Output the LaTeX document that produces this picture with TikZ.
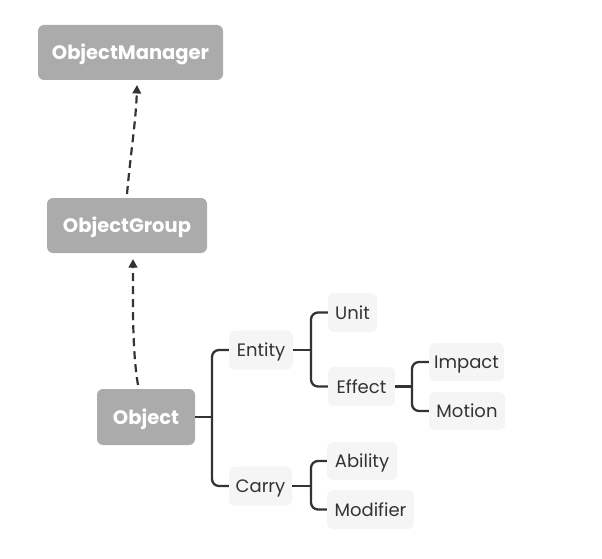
\documentclass[tikz,border=0pt]{standalone}
\usepackage{fontspec}
\setmainfont{Poppins}
\usetikzlibrary{arrows.meta}
\definecolor{boxgray}{HTML}{ABABAB}
\definecolor{leafgray}{HTML}{F5F5F5}
\definecolor{linecol}{HTML}{333333}
\tikzset{
  mainbox/.style={fill=boxgray, rounded corners=6pt, text=white, font=\fontsize{19.5}{22}\selectfont\bfseries, inner sep=0pt, text height=14.5pt, text depth=0pt, anchor=center},
  leafbox/.style={fill=leafgray, rounded corners=6pt, text=linecol, font=\fontsize{18}{20}\selectfont, inner sep=0pt, text height=13.5pt, text depth=0pt, anchor=center},
  branch/.style={draw=linecol, line width=2.3pt, rounded corners=7pt},
  deparrow/.style={draw=linecol, line width=2.2pt, dash pattern=on 8pt off 5pt, -{Triangle[length=8.5pt,width=8.5pt]}},
}
\begin{document}
\begin{tikzpicture}[x=1pt,y=-1pt]
\useasboundingbox (0,0) rectangle (602,559);
\node[mainbox, minimum width=185pt, minimum height=55pt] (om) at (130.5,52.5) {ObjectManager};
\node[mainbox, minimum width=160pt, minimum height=55pt] (og) at (127,225.5) {ObjectGroup};
\node[mainbox, minimum width=98pt, minimum height=56pt] (ob) at (146,417) {Object};
\node[leafbox, minimum width=64pt, minimum height=39pt] (en) at (261,350) {Entity};
\node[leafbox, minimum width=63pt, minimum height=39pt] (ca) at (260.5,486) {Carry};
\node[leafbox, minimum width=49pt, minimum height=39pt] (un) at (352.5,312.5) {Unit};
\node[leafbox, minimum width=67pt, minimum height=39pt] (ef) at (361.5,386.5) {Effect};
\node[leafbox, minimum width=75pt, minimum height=38pt] (im) at (466.5,362) {Impact};
\node[leafbox, minimum width=76pt, minimum height=38pt] (mo) at (467,411) {Motion};
\node[leafbox, minimum width=70pt, minimum height=38pt] (ab) at (362,461) {Ability};
\node[leafbox, minimum width=87pt, minimum height=39pt] (md) at (370.5,509.5) {Modifier};
% dependency arrows
\coordinate (a1s) at (127,194);
\coordinate (a1e) at (137,85);
\draw[deparrow] (a1s) .. controls (131,150) and (136,120) .. (a1e);
\coordinate (a2s) at (138,385);
\coordinate (a2e) at (133,259);
\draw[deparrow] (a2s) .. controls (132,350) and (133,300) .. (a2e);
% tree branches
\draw[branch, rounded corners=0pt] (ob.east) -- (212,417);
\draw[branch] (en.west) -- (212,350) -- (212,486) -- (ca.west);
\draw[branch, rounded corners=0pt] (en.east) -- (311,350);
\draw[branch] (un.west) -- (311,312.5) -- (311,386.5) -- (ef.west);
\draw[branch, rounded corners=0pt] (ef.east) -- (412,386.5);
\draw[branch] (im.west) -- (412,362) -- (412,411) -- (mo.west);
\draw[branch, rounded corners=0pt] (ca.east) -- (311,486);
\draw[branch] (ab.west) -- (311,461) -- (311,509.5) -- (md.west);
\end{tikzpicture}
\end{document}
